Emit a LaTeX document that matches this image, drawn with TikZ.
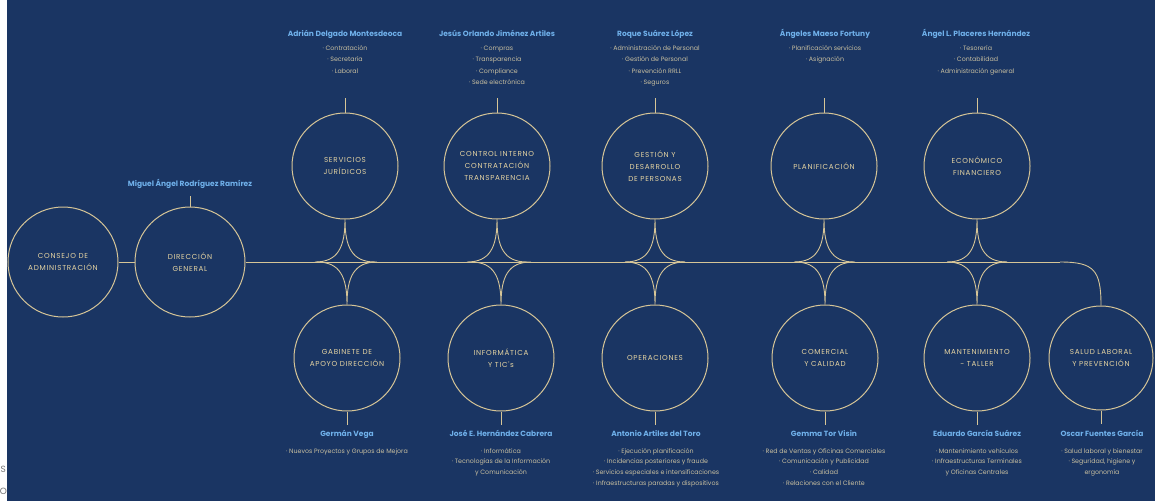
\documentclass[tikz,border=0pt]{standalone}
\usepackage{fontspec}
\setmainfont{Poppins}
\newfontfamily\circfont[LetterSpace=10]{Poppins}
\definecolor{bgblue}{HTML}{1A3563}
\definecolor{goldline}{HTML}{D6C597}
\definecolor{goldtxt}{HTML}{E4D3A2}
\definecolor{nameblue}{HTML}{6FB0EA}
\definecolor{bultxt}{HTML}{C8BFA0}
\newcommand\brnch[4]{% node, x, control y, anchor
  \coordinate (#1-l) at (#2-30,262);
  \coordinate (#1-r) at (#2+30,262);
  \draw[ln] (#1-l) .. controls (#2-7,262) and (#2,#3) .. (#1.#4)
            .. controls (#2,#3) and (#2+7,262) .. (#1-r);}
\begin{document}
\begin{tikzpicture}[x=1pt,y=-1pt,
  ln/.style={draw=goldline,line width=0.9pt},
  circ/.style={circle,draw=goldline,line width=1pt,minimum size=106pt,inner sep=0pt,
    align=center,text=goldtxt,font=\circfont\fontsize{7.2}{12}\selectfont},
  bigcirc/.style={circ,minimum size=110pt},
  nm/.style={anchor=base,inner sep=0pt,text=nameblue,font=\bfseries\fontsize{7.5}{8}\selectfont},
  bul/.style={anchor=base,inner sep=0pt,text=bultxt,font=\fontsize{6.3}{7}\selectfont},
  edge/.style={text=black!55,font=\fontsize{9}{9}\selectfont,inner sep=0pt,anchor=base}]
\useasboundingbox (0,0) rectangle (1155,501);
\fill[white] (0,0) rectangle (7,501);
\fill[bgblue] (7,0) rectangle (1155,501);
\node[edge] (pgS) at (3.3,472) {S};
\node[edge] (pgO) at (3.3,494) {O};

% main circles
\node[bigcirc] (cons) at (63,262) {CONSEJO DE\\ADMINISTRACIÓN};
\node[bigcirc] (dg) at (190,262) {DIRECCIÓN\\GENERAL};
\draw[ln] (cons.east) -- (dg.east -| dg.west);
\coordinate (mainend) at (1060,262);
\draw[ln] (dg.east) -- (mainend);
\draw[ln] (dg.north) -- ++(0,-11);
\node[nm] (dgname) at (190,186.5) {Miguel Ángel Rodríguez Ramírez};

% top circles
\node[circ] (srv) at (345,166) {SERVICIOS\\JURÍDICOS};
\node[circ] (ctl) at (497,166) {CONTROL INTERNO\\CONTRATACIÓN\\TRANSPARENCIA};
\node[circ] (ges) at (655,166) {GESTIÓN Y\\DESARROLLO\\DE PERSONAS};
\node[circ] (pla) at (824,166) {PLANIFICACIÓN};
\node[circ] (eco) at (977,166) {ECONÓMICO\\FINANCIERO};

% bottom circles
\node[circ] (gab) at (347,358) {GABINETE DE\\APOYO DIRECCIÓN};
\node[circ] (inf) at (501,358) {INFORMÁTICA\\Y TIC's};
\node[circ] (ope) at (655,358) {OPERACIONES};
\node[circ] (com) at (825,358) {COMERCIAL\\Y CALIDAD};
\node[circ] (man) at (977,358) {MANTENIMIENTO\\- TALLER};
\node[circ,minimum size=104pt] (sal) at (1101,358) {SALUD LABORAL\\Y PREVENCIÓN};

% junctions
\brnch{srv}{345}{247}{south}
\brnch{ctl}{497}{247}{south}
\brnch{ges}{655}{247}{south}
\brnch{pla}{824}{247}{south}
\brnch{eco}{977}{247}{south}
\brnch{gab}{347}{277}{north}
\brnch{inf}{501}{277}{north}
\brnch{ope}{655}{277}{north}
\brnch{com}{825}{277}{north}
\brnch{man}{977}{277}{north}
\draw[ln] (mainend) .. controls (1094,262) and (1101,270) .. (sal.north);

% stubs
\foreach \n in {srv,ctl,ges,pla,eco} \draw[ln] (\n.north) -- ++(0,-15);
\foreach \n in {gab,inf,ope,com,man,sal} \draw[ln] (\n.south) -- ++(0,13);

% top labels
\node[nm] (n-srv) at (345,36.5) {Adrián Delgado Montesdeoca};
\foreach \t [count=\i] in {Contratación,Secretaría,Laboral}
  \node[bul] (b-srv-\i) at (345,38.5+11.5*\i) {· \t};
\node[nm] (n-ctl) at (497,36.5) {Jesús Orlando Jiménez Artiles};
\foreach \t [count=\i] in {Compras,Transparencia,Compliance,Sede electrónica}
  \node[bul] (b-ctl-\i) at (497,38.5+11.5*\i) {· \t};
\node[nm] (n-ges) at (655,36.5) {Roque Suárez López};
\foreach \t [count=\i] in {Administración de Personal,Gestión de Personal,Prevención RRLL,Seguros}
  \node[bul] (b-ges-\i) at (655,38.5+11.5*\i) {· \t};
\node[nm] (n-pla) at (825,36.5) {Ángeles Maeso Fortuny};
\foreach \t [count=\i] in {Planificación servicios,Asignación}
  \node[bul] (b-pla-\i) at (825,38.5+11.5*\i) {· \t};
\node[nm] (n-eco) at (976,36.5) {Ángel L. Placeres Hernández};
\foreach \t [count=\i] in {Tesorería,Contabilidad,Administración general}
  \node[bul] (b-eco-\i) at (976,38.5+11.5*\i) {· \t};

% bottom labels
\node[nm] (n-gab) at (347,436.5) {Germán Vega};
\node[bul] (b-gab-1) at (347,453) {· Nuevos Proyectos y Grupos de Mejora};
\node[nm] (n-inf) at (501,436.5) {José E. Hernández Cabrera};
\foreach \t [count=\i] in {· Informática,· Tecnologías de la Información,y Comunicación}
  \node[bul] (b-inf-\i) at (501,442.3+10.7*\i) {\t};
\node[nm] (n-ope) at (656,436.5) {Antonio Artiles del Toro};
\foreach \t [count=\i] in {Ejecución planificación,Incidencias posteriores y fraude,Servicios especiales e intensificaciones,Infraestructuras paradas y dispositivos}
  \node[bul] (b-ope-\i) at (656,442.3+10.7*\i) {· \t};
\node[nm] (n-com) at (824,436.5) {Gemma Tor Visin};
\foreach \t [count=\i] in {Red de Ventas y Oficinas Comerciales,Comunicación y Publicidad,Calidad,Relaciones con el Cliente}
  \node[bul] (b-com-\i) at (824,442.3+10.7*\i) {· \t};
\node[nm] (n-man) at (977,436.5) {Eduardo García Suárez};
\foreach \t [count=\i] in {· Mantenimiento vehículos,· Infraestructuras Terminales,y Oficinas Centrales}
  \node[bul] (b-man-\i) at (977,442.3+10.7*\i) {\t};
\node[nm] (n-sal) at (1102,436.5) {Oscar Fuentes García};
\foreach \t [count=\i] in {· Salud laboral y bienestar,{· Seguridad, higiene y},ergonomía}
  \node[bul] (b-sal-\i) at (1102,442.3+10.7*\i) {\t};
\end{tikzpicture}
\end{document}
